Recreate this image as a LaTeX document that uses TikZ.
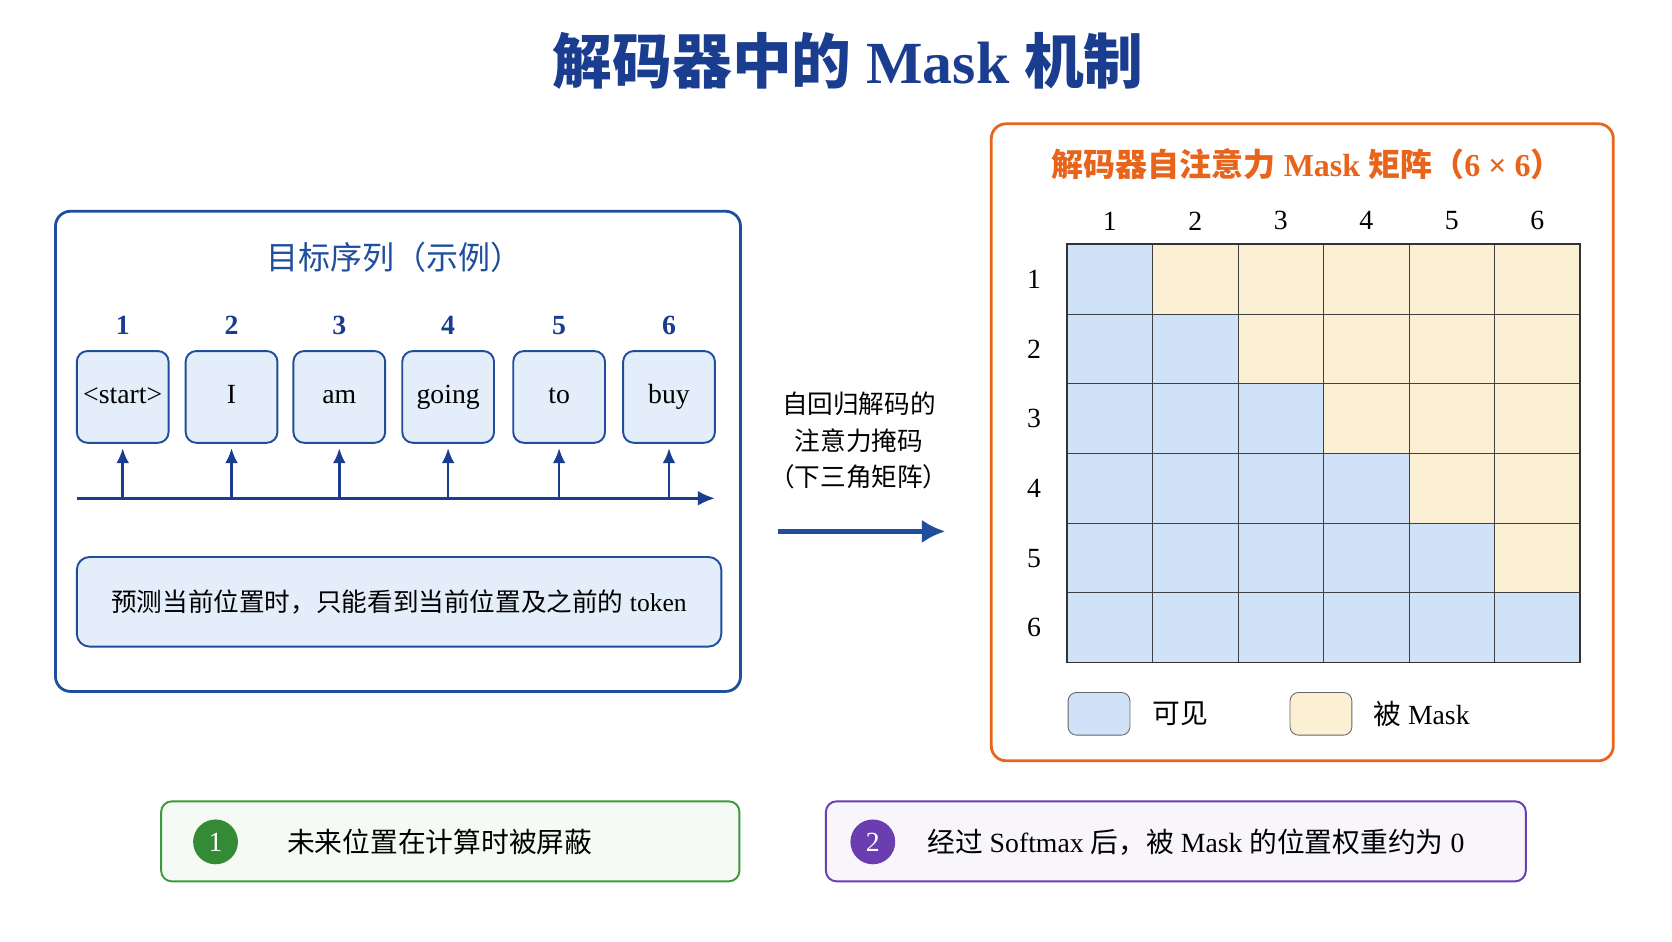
\documentclass[tikz,border=0pt]{standalone}
\usepackage{fontspec}
\setmainfont{Liberation Serif}
\newfontfamily\cjk{Noto Sans CJK SC}
\definecolor{dblue}{HTML}{1A3D8F}
\definecolor{mblue}{HTML}{1F4E9C}
\definecolor{lblue}{HTML}{E3EEFA}
\definecolor{cblue}{HTML}{CFE2F7}
\definecolor{cyel}{HTML}{FBF0D4}
\definecolor{orng}{HTML}{E8641B}
\definecolor{grn}{HTML}{3B9A3B}
\definecolor{prp}{HTML}{6A3DB0}
\begin{document}
\begin{tikzpicture}[x=0.5pt,y=-0.5pt,
  tok/.style={draw=mblue,fill=lblue,rounded corners=5pt,line width=0.9pt,minimum width=43pt,minimum height=43pt,inner sep=0pt,text height=9pt,text depth=3pt,font=\fontsize{13}{15}\selectfont},
  num/.style={font=\bfseries\fontsize{13}{15}\selectfont,text=dblue},
  lab/.style={font=\fontsize{13}{15}\selectfont},
  up/.style={-{Latex[length=7pt,width=6pt]},line width=1.2pt,draw=dblue}]
\usetikzlibrary{arrows.meta}
\useasboundingbox (0,0) rectangle (1567,882);
\fill[white] (0,0) rectangle (1567,882);
\node[text=dblue,font=\bfseries\fontsize{28}{32}\selectfont] (title) at (795,57) {{\cjk 解码器中的} Mask {\cjk 机制}};
% left box
\draw[mblue,line width=1.3pt,rounded corners=7pt] (52,198) rectangle (694,648);
\node[text=mblue,font=\cjk\fontsize{15}{18}\selectfont] (sub) at (370,241) {目标序列（示例）};
\coordinate (axl) at (72,467); \coordinate (axr) at (670,467);
\draw[-{Latex[length=8pt,width=7pt]},line width=1.2pt,dblue] (axl) -- (axr);
\foreach \i/\x/\t in {1/115/{<start>},2/217/I,3/318/am,4/420/going,5/524/to,6/627/buy}{
  \node[num] (n\i) at (\x,305) {\i};
  \node[tok] (t\i) at (\x,372) {\t};
  \coordinate (b\i) at (\x,467);
  \draw[up] (b\i) -- (t\i.south |- 0,420);
}
\node[draw=mblue,fill=lblue,rounded corners=6pt,line width=0.9pt,minimum width=302pt,minimum height=42pt,font=\fontsize{12}{14}\selectfont] (pred) at (374,564) {{\cjk 预测当前位置时，只能看到当前位置及之前的} token};
% middle
\node[align=center,font=\cjk\fontsize{12}{17}\selectfont] (mid) at (805,413) {自回归解码的\\注意力掩码\\（下三角矩阵）};
\coordinate (ma) at (729,498); \coordinate (mb) at (886,498);
\draw[-{Latex[length=11pt,width=11pt]},line width=2.5pt,mblue] (ma) -- (mb);
% right box
\draw[orng,line width=1.3pt,rounded corners=7pt] (929,116) rectangle (1512,713);
\node[text=orng,font=\bfseries\fontsize{15}{18}\selectfont] (rt) at (1225,154) {{\cjk 解码器自注意力} Mask {\cjk 矩阵（}6 × 6{\cjk ）}};
\foreach \r in {1,...,6}{
  \foreach \c in {1,...,6}{
    \pgfmathsetmacro\xx{1000+(\c-1)*80.17}
    \pgfmathsetmacro\yy{229+(\r-1)*65.33}
    \ifnum\c>\r \def\cc{cyel}\else\def\cc{cblue}\fi
    \draw[fill=\cc,draw=black!75,line width=0.5pt] (\xx,\yy) rectangle ++(80.17,65.33);
  }
  \pgfmathsetmacro\cx{1040+(\r-1)*80.17}
  \pgfmathsetmacro\ry{261.7+(\r-1)*65.33}
  \node[lab] (c\r) at (\cx,207) {\r};
  \node[lab] (r\r) at (969,\ry) {\r};
}
\draw[black!80,line width=0.8pt] (1000,229) rectangle (1481,621);
% legend
\node[draw=black!60,fill=cblue,rounded corners=4pt,minimum width=29pt,minimum height=20pt] (lv) at (1030,669) {};
\node[anchor=west,font=\cjk\fontsize{13}{15}\selectfont] (lvt) at (1073,669) {可见};
\node[draw=black!60,fill=cyel,rounded corners=4pt,minimum width=29pt,minimum height=20pt] (lm) at (1238,669) {};
\node[anchor=west,lab] (lmt) at (1280,669) {{\cjk 被} Mask};
% bottom boxes
\draw[grn,fill=grn!5,line width=0.9pt,rounded corners=5pt] (151,751) rectangle (693,826);
\node[circle,fill=grn!90!black,text=white,minimum size=21pt,inner sep=0pt,font=\fontsize{13}{15}\selectfont] (g1) at (202,789) {1};
\node[anchor=west,font=\cjk\fontsize{13}{15}\selectfont] (g1t) at (262,789) {未来位置在计算时被屏蔽};
\draw[prp,fill=prp!5,line width=0.9pt,rounded corners=5pt] (774,751) rectangle (1430,826);
\node[circle,fill=prp,text=white,minimum size=21pt,inner sep=0pt,font=\fontsize{13}{15}\selectfont] (p2) at (818,789) {2};
\node[anchor=west,lab] (p2t) at (862,789) {{\cjk 经过} Softmax {\cjk 后，被} Mask {\cjk 的位置权重约为} 0};
\end{tikzpicture}
\end{document}
